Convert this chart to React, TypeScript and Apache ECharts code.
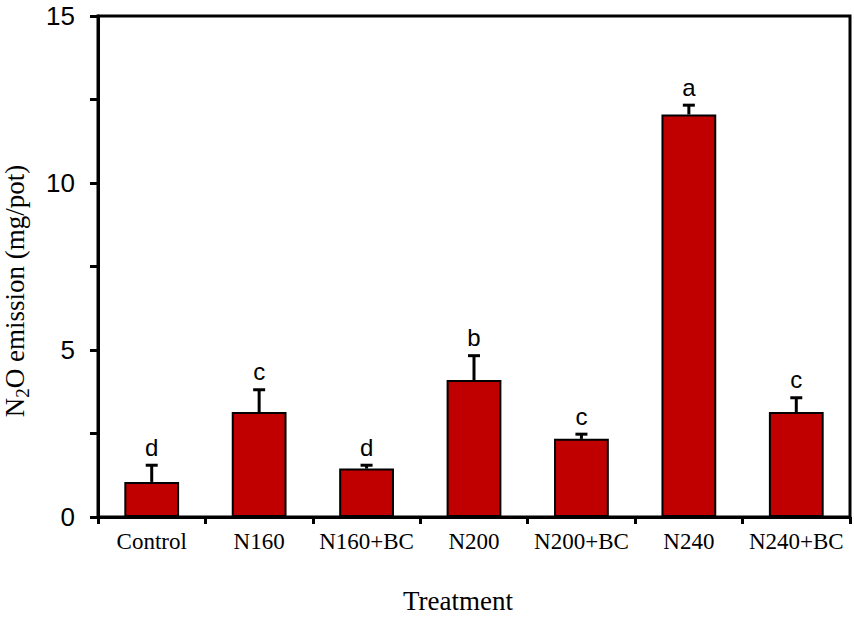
import React, { useEffect, useRef } from "react";
import * as echarts from "echarts";

const categories = ["Control", "N160", "N160+BC", "N200", "N200+BC", "N240", "N240+BC"];
const means = [1.05, 3.14, 1.45, 4.1, 2.34, 12.05, 3.14];
const errors = [0.5, 0.67, 0.1, 0.73, 0.14, 0.28, 0.43];
const letters = ["d", "c", "d", "b", "c", "a", "c"];
const yTicks = [0, 5, 10, 15];

export default function App() {
  const ref = useRef<HTMLDivElement>(null);
  useEffect(() => {
    document.body.style.margin = "0";
    const chart = echarts.init(ref.current!, null, { renderer: "svg" });
    const errData = categories.map((_, i) => [i, means[i], errors[i]]);
    chart.setOption({
      animation: false,
      grid: {
        left: 98,
        right: 4,
        top: 16,
        bottom: 104,
        show: true,
        borderColor: "#000",
        borderWidth: 3,
        containLabel: false,
      },
      xAxis: {
        type: "category",
        data: categories,
        axisLine: { lineStyle: { color: "#000", width: 3 } },
        axisTick: { show: true, length: 7, lineStyle: { color: "#000", width: 3 } },
        axisLabel: {
          color: "#000",
          fontFamily: "Liberation Serif",
          fontSize: 23,
          margin: 13,
          interval: 0,
        },
      },
      yAxis: {
        type: "value",
        min: 0,
        max: 15,
        interval: 2.5,
        splitLine: { show: false },
        axisLine: { show: true, lineStyle: { color: "#000", width: 3 } },
        axisTick: { show: true, length: 8, lineStyle: { color: "#000", width: 3 } },
        axisLabel: {
          color: "#000",
          fontFamily: "Liberation Sans",
          fontSize: 26,
          margin: 23,
          formatter: (v: number) => (yTicks.indexOf(v) >= 0 ? String(v) : ""),
        },
      },
      graphic: [
        {
          type: "text",
          x: 15,
          y: 291,
          rotation: Math.PI / 2,
          style: {
            text: "{n|N}{s|2}{n|O emission (mg/pot)}",
            align: "center",
            verticalAlign: "middle",
            rich: {
              n: { fontFamily: "Liberation Serif", fontSize: 27, fill: "#000", lineHeight: 34 },
              s: { fontFamily: "Liberation Serif", fontSize: 19, fill: "#000", lineHeight: 34, verticalAlign: "bottom", padding: [20, 0, 0, 0] },
            },
          },
        },
        {
          type: "text",
          x: 458,
          y: 601,
          style: {
            text: "Treatment",
            fontFamily: "Liberation Serif",
            fontSize: 27,
            fill: "#000",
            align: "center",
            verticalAlign: "middle",
          },
        },
      ],
      series: [
        {
          type: "bar",
          data: means,
          barWidth: "51%",
          itemStyle: { color: "#C00000", borderColor: "#000", borderWidth: 2 },
          z: 2,
        },
        {
          type: "custom",
          data: errData,
          z: 3,
          renderItem: (params: any, api: any) => {
            const i = api.value(0);
            const m = api.value(1);
            const e = api.value(2);
            const base = api.coord([i, m]);
            const top = api.coord([i, m + e]);
            const cap = 6;
            return {
              type: "group",
              children: [
                {
                  type: "line",
                  shape: { x1: base[0], y1: base[1], x2: top[0], y2: top[1] },
                  style: { stroke: "#000", lineWidth: 3 },
                },
                {
                  type: "line",
                  shape: { x1: top[0] - cap, y1: top[1], x2: top[0] + cap, y2: top[1] },
                  style: { stroke: "#000", lineWidth: 3 },
                },
                {
                  type: "text",
                  x: top[0],
                  y: top[1] - 6,
                  style: {
                    text: letters[params.dataIndex],
                    fontFamily: "Liberation Sans",
                    fontSize: 24,
                    fill: "#000",
                    align: "center",
                    verticalAlign: "bottom",
                  },
                },
              ],
            };
          },
        },
      ],
    });
    return () => chart.dispose();
  }, []);
  return <div ref={ref} style={{ width: 854, height: 621 }} />;
}
